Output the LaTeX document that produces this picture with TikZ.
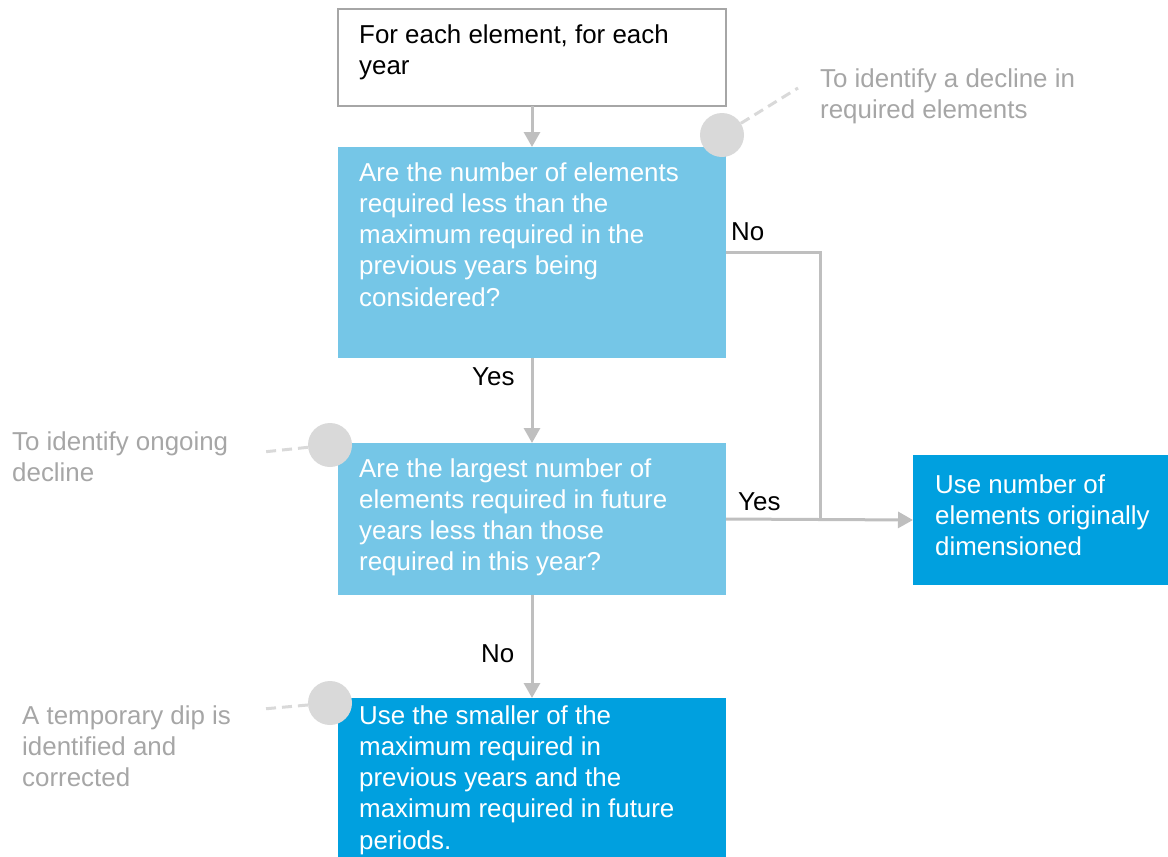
\documentclass[tikz,border=0pt]{standalone}
\usepackage{fontspec}
\setmainfont{Liberation Sans}
\usetikzlibrary{arrows.meta}
\definecolor{lblue}{HTML}{75C6E7}
\definecolor{dblue}{HTML}{00A0DF}
\definecolor{arrgray}{HTML}{BFBFBF}
\definecolor{circgray}{HTML}{D9D9D9}
\definecolor{txtgray}{HTML}{A6A6A6}
\tikzset{
  box/.style={rectangle, inner sep=0pt, outer sep=0pt, anchor=north west},
  whitebox/.style={box, draw=txtgray, line width=1.5pt, fill=white},
  lbox/.style={box, fill=lblue},
  dbox/.style={box, fill=dblue},
  txt/.style={inner sep=0pt, anchor=base west, align=left, font=\fontsize{25.9}{31.25}\selectfont},
  graytxt/.style={txt, text=txtgray},
  whitetxt/.style={txt, text=white},
  conn/.style={draw=arrgray, line width=3pt},
  arr/.style={conn, -{Triangle[length=15pt,width=16pt]}},
  dot/.style={circle, fill=circgray, minimum size=44pt, inner sep=0pt},
  dashline/.style={draw=circgray, line width=3pt, dash pattern=on 10pt off 6pt},
}
\begin{document}
\begin{tikzpicture}[x=1pt,y=-1pt]
\useasboundingbox (0,0) rectangle (1168,857);
% boxes
\node[whitebox, minimum width=388pt, minimum height=97pt] (b1) at (338,9) {};
\node[lbox, minimum width=388pt, minimum height=211pt] (b2) at (338,147) {};
\node[lbox, minimum width=388pt, minimum height=152pt] (b3) at (338,443) {};
\node[dbox, minimum width=388pt, minimum height=160pt] (b4) at (338,698) {};
\node[dbox, minimum width=255pt, minimum height=130pt] (r) at (913,455) {};
% box texts (anchored at the baseline of their last line)
\node[txt] (t1) at (359,74.25) {For each element, for each\\year};
\node[whitetxt] (t2) at (359,306) {Are the number of elements\\required less than the\\maximum required in the\\previous years being\\considered?};
\node[whitetxt] (t3) at (359,570.75) {Are the largest number of\\elements required in future\\years less than those\\required in this year?};
\node[whitetxt] (t4) at (359,849) {Use the smaller of the\\maximum required in\\previous years and the\\maximum required in future\\periods.};
\node[whitetxt] (t5) at (935,555.5) {Use number of\\elements originally\\dimensioned};
% connectors
\draw[arr] (b1.south) -- (b2.north);
\draw[arr] (b2.south) -- (b3.north);
\draw[arr] (b3.south) -- (b4.north);
\coordinate (nocorner) at (820,252);
\draw[conn] (b2.east |- nocorner) -- (nocorner) -- (nocorner |- r.west);
\draw[arr] (b3.east) -- (r.west);
% connector labels
\node[txt] (lno1) at (731,240) {No};
\node[txt] (lyes1) at (472,385) {Yes};
\node[txt] (lyes2) at (738,510) {Yes};
\node[txt] (lno2) at (481,662) {No};
% annotation markers
\coordinate (d1) at (798,88);
\coordinate (d2) at (263,452);
\coordinate (d3) at (263,709);
\node[dot] (c1) at (722,135) {};
\node[dot] (c2) at (330,445) {};
\node[dot] (c3) at (330,703) {};
\draw[dashline] (c1) -- (d1);
\draw[dashline] (c2) -- (d2);
\draw[dashline] (c3) -- (d3);
\node[graytxt] (a1) at (820,118.25) {To identify a decline in\\required elements};
\node[graytxt] (a2) at (12,481.25) {To identify ongoing\\decline};
\node[graytxt] (a3) at (22,786.5) {A temporary dip is\\identified and\\corrected};
\end{tikzpicture}
\end{document}
